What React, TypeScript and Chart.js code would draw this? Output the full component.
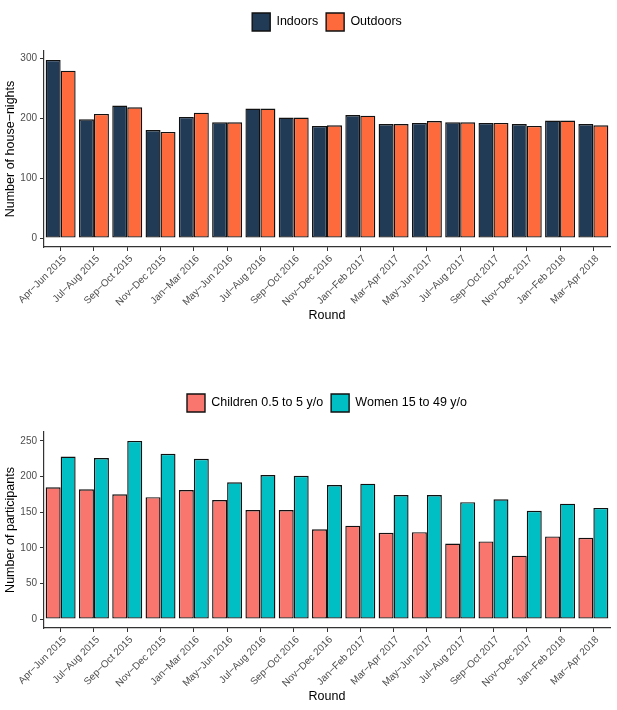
import { useEffect, useRef } from "react";
import { Chart, registerables, type ChartConfiguration } from "chart.js";

Chart.register(...registerables);

Chart.defaults.font.family = "'Liberation Sans', Arial, sans-serif";

// survey rounds (x categories, shared by both panels)
const rounds = [
  "Apr−Jun 2015",
  "Jul−Aug 2015",
  "Sep−Oct 2015",
  "Nov−Dec 2015",
  "Jan−Mar 2016",
  "May−Jun 2016",
  "Jul−Aug 2016",
  "Sep−Oct 2016",
  "Nov−Dec 2016",
  "Jan−Feb 2017",
  "Mar−Apr 2017",
  "May−Jun 2017",
  "Jul−Aug 2017",
  "Sep−Oct 2017",
  "Nov−Dec 2017",
  "Jan−Feb 2018",
  "Mar−Apr 2018",
];

// top panel: house-nights
const indoors = [297, 198, 221, 180, 202, 193, 216, 201, 187, 205, 190, 192, 193, 192, 190, 196, 190];
const outdoors = [279, 207, 218, 177, 209, 193, 216, 201, 188, 204, 190, 195, 193, 192, 187, 196, 188];
const houseTicks = [0, 100, 200, 300];

// bottom panel: participants
const children = [185, 182, 175, 171, 181, 167, 153, 153, 126, 131, 121, 122, 106, 109, 89, 116, 114];
const women = [228, 226, 250, 232, 225, 192, 202, 201, 188, 190, 174, 174, 164, 168, 152, 162, 156];
const participantTicks = [0, 50, 100, 150, 200, 250];

type Series = { label: string; data: number[]; color: string };

const AXIS = "#333333";
const TICK_TEXT = "#4d4d4d";

// pushes the plot panel down below the legend, like ggplot's legend spacing
const legendSpacer = {
  id: "legendSpacer",
  beforeUpdate(chart: any) {
    const legend = chart.legend;
    if (!legend || legend._spaced) return;
    const fit = legend.fit;
    legend.fit = function () {
      fit.call(this);
      this.height += 10;
    };
    legend._spaced = true;
  },
};

function GroupedBars({
  labels,
  series,
  yTitle,
  yTicks,
}: {
  labels: string[];
  series: Series[];
  yTitle: string;
  yTicks: number[];
}) {
  const canvasRef = useRef<HTMLCanvasElement | null>(null);
  const chartRef = useRef<Chart | null>(null);

  useEffect(() => {
    if (!canvasRef.current) return;
    const ctx = canvasRef.current.getContext("2d");
    if (!ctx) return;

    const dataMax = Math.max(...series.flatMap((s) => s.data));

    const config: ChartConfiguration<"bar"> = {
      type: "bar",
      data: {
        labels,
        datasets: series.map((s) => ({
          label: s.label,
          data: s.data,
          backgroundColor: s.color,
          borderColor: "#111111",
          borderWidth: 1.4,
          borderSkipped: false,
          categoryPercentage: 0.9,
          barPercentage: 1,
        })),
      },
      options: {
        responsive: true,
        maintainAspectRatio: false,
        animation: false,
        layout: { padding: { top: 5, right: 7, left: 0, bottom: 0 } },
        plugins: {
          tooltip: { enabled: false },
          legend: {
            position: "top",
            fullSize: false,
            labels: {
              boxWidth: 18,
              boxHeight: 18,
              padding: 8,
              color: "#000",
              font: { size: 12.5 },
            },
          },
        },
        scales: {
          x: {
            type: "category",
            offset: true,
            grid: {
              display: true,
              offset: false,
              drawOnChartArea: false,
              drawTicks: true,
              tickLength: 4,
              color: AXIS,
              lineWidth: 1,
            },
            border: { display: true, color: AXIS, width: 1.2 },
            ticks: {
              autoSkip: false,
              minRotation: 45,
              maxRotation: 45,
              padding: 2,
              labelOffset: 4,
              color: TICK_TEXT,
              font: { size: 10 },
            },
            title: {
              display: true,
              text: "Round",
              color: "#000",
              font: { size: 12.5 },
              padding: { top: 0, bottom: 7 },
            },
            afterFit(scale) {
              scale.height = 83;
            },
          },
          y: {
            min: -dataMax * 0.05,
            max: dataMax * 1.05,
            afterBuildTicks(scale) {
              scale.ticks = yTicks.map((v) => ({ value: v }));
            },
            grid: {
              display: true,
              drawOnChartArea: false,
              drawTicks: true,
              tickLength: 4,
              color: AXIS,
              lineWidth: 1,
            },
            border: { display: true, color: AXIS, width: 1.2 },
            ticks: {
              padding: 3,
              color: TICK_TEXT,
              font: { size: 10 },
            },
            title: {
              display: true,
              text: yTitle,
              color: "#000",
              font: { size: 12.5 },
              padding: { top: 3, bottom: 0 },
            },
            afterFit(scale) {
              scale.width = 44;
            },
          },
        },
      },
      plugins: [legendSpacer],
    };

    chartRef.current = new Chart(ctx, config);

    return () => {
      if (chartRef.current) {
        chartRef.current.destroy();
        chartRef.current = null;
      }
    };
  }, [labels, series, yTitle, yTicks]);

  return <canvas ref={canvasRef} />;
}

const houseSeries: Series[] = [
  { label: "Indoors", data: indoors, color: "#213a56" },
  { label: "Outdoors", data: outdoors, color: "#fe6a3b" },
];

const participantSeries: Series[] = [
  { label: "Children 0.5 to 5 y/o", data: children, color: "#f8766d" },
  { label: "Women 15 to 49 y/o", data: women, color: "#00bfc4" },
];

export default function App() {
  return (
    <div style={{ position: "absolute", left: 0, top: 0, width: 617, height: 710, background: "#fff" }}>
      <div style={{ position: "absolute", left: 0, top: 0, width: 617, height: 330 }}>
        <GroupedBars labels={rounds} series={houseSeries} yTitle="Number of house−nights" yTicks={houseTicks} />
      </div>
      <div style={{ position: "absolute", left: 0, top: 381, width: 617, height: 330 }}>
        <GroupedBars
          labels={rounds}
          series={participantSeries}
          yTitle="Number of participants"
          yTicks={participantTicks}
        />
      </div>
    </div>
  );
}
